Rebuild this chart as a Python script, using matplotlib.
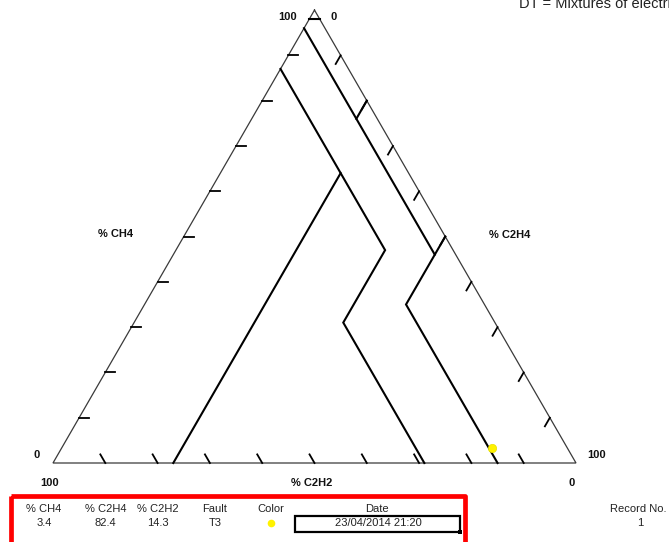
import numpy as np
import matplotlib
matplotlib.use("Agg")
import matplotlib.pyplot as plt
from matplotlib.patches import Rectangle

plt.rcParams['font.family'] = ['Liberation Sans', 'DejaVu Sans']

# ---------------- data ----------------
# ternary points are (CH4, C2H4, C2H2) in %
pd_line = [(98, 2, 0), (98, 0, 2)]
t1_t2_line = [(80, 20, 0), (76, 20, 4)]
c2h2_4_line = [(96, 0, 4), (46, 50, 4)]
t3_line = [(50, 50, 0), (35, 50, 15), (0, 85, 15)]
d1_line = [(87, 0, 13), (64, 23, 13), (0, 23, 77)]
d2_line = [(64, 23, 13), (47, 40, 13), (31, 40, 29), (0, 71, 29)]
zone_lines = [pd_line, t1_t2_line, c2h2_4_line, t3_line, d1_line, d2_line]

tick_values = [10, 20, 30, 40, 50, 60, 70, 80, 90]

sample_ch4 = [3.4]
sample_c2h4 = [82.4]
sample_c2h2 = [14.3]

table_headers = ["% CH4", "% C2H4", "% C2H2", "Fault", "Color", "Date"]
table_values = ["3.4", "82.4", "14.3", "T3", "", "23/04/2014 21:20"]
fault_color = "#FFF200"
record_label = "Record No."
record_value = "1"
legend_text = "DT = Mixtures of electrical and thermal faults"

# ---------------- helpers ----------------
S3 = np.sqrt(3) / 2


def tern(ch4, c2h4, c2h2):
    tot = ch4 + c2h4 + c2h2
    a, b = ch4 / tot * 100, c2h4 / tot * 100
    return b + a / 2, a * S3


W, H = 669, 542
fig = plt.figure(figsize=(W / 100, H / 100), dpi=100)

# main ternary axes: pixel x = 53 + 5.23*X, pixel y = 463 - 5.23*Y
sc = 5.23
ax = fig.add_axes([0, 0, 1, 1])
ax.set_xlim(-53 / sc, (W - 53) / sc)
ax.set_ylim((463 - H) / sc, 463 / sc)
ax.axis('off')

# outline
corners = [(100, 0, 0), (0, 100, 0), (0, 0, 100), (100, 0, 0)]
cx, cy = zip(*[tern(*c) for c in corners])
ax.plot(cx, cy, color='#3a3a3a', lw=0.9, solid_joinstyle='miter')

# ticks
tl = 1.9
for v in tick_values:
    # CH4 ticks on left side (C2H4 = 0), horizontal inward
    p0 = tern(v, 0, 100 - v)
    p1 = tern(v, tl, 100 - v - tl)
    ax.plot([p0[0], p1[0]], [p0[1], p1[1]], color='black', lw=1.3)
    # C2H4 ticks on right side (C2H2 = 0)
    p0 = tern(100 - v, v, 0)
    p1 = tern(100 - v - tl, v, tl)
    ax.plot([p0[0], p1[0]], [p0[1], p1[1]], color='black', lw=1.3)
    # C2H2 ticks on bottom (CH4 = 0)
    p0 = tern(0, 100 - v, v)
    p1 = tern(tl, 100 - v - tl, v)
    ax.plot([p0[0], p1[0]], [p0[1], p1[1]], color='black', lw=1.3)

# zone lines
for line in zone_lines:
    xs, ys = zip(*[tern(*p) for p in line])
    ax.plot(xs, ys, color='black', lw=1.5, solid_joinstyle='miter')

# sample point
for a, b, c in zip(sample_ch4, sample_c2h4, sample_c2h2):
    px, py = tern(a, b, c)
    ax.plot(px, py, 'o', color=fault_color, ms=6, mec='#E8E000', mew=0.5, zorder=5)

# ---------------- overlay in pixel coords ----------------
ov = fig.add_axes([0, 0, 1, 1])
ov.set_xlim(0, W)
ov.set_ylim(H, 0)
ov.axis('off')
ov.patch.set_alpha(0)

bold = dict(fontsize=8, fontweight='bold', color='#111111')
ov.text(288, 17, "100", ha='center', va='center', **bold)
ov.text(334, 17, "0", ha='center', va='center', **bold)
ov.text(37, 455, "0", ha='center', va='center', **bold)
ov.text(50, 483, "100", ha='center', va='center', **bold)
ov.text(597, 455, "100", ha='center', va='center', **bold)
ov.text(572, 483, "0", ha='center', va='center', **bold)
ov.text(116, 234, "% CH4", ha='center', va='center', **bold)
ov.text(510, 235, "% C2H4", ha='center', va='center', **bold)
ov.text(312, 483, "% C2H2", ha='center', va='center', **bold)

ov.text(519, 7.5, legend_text, ha='left', va='baseline', fontsize=10.5, color='#222222')

# table
col_x = [44, 105.5, 158, 215, 270.5, 377]
for x, h, v in zip(col_x, table_headers, table_values):
    ov.text(x, 509, h, ha='center', va='center', fontsize=8, color='#222222')
    if h == "Color":
        ov.plot(x, 523, 'o', color=fault_color, ms=5.5, mec='none')
    else:
        ov.text(x + (1 if h == "Date" else 0), 523, v, ha='center', va='center',
                fontsize=8, color='#222222')

ov.add_patch(Rectangle((295, 516), 165, 16, fill=False, ec='black', lw=1.6))
ov.add_patch(Rectangle((457.5, 529.5), 4.5, 4.5, fc='black', ec='none'))

ov.text(638, 509, record_label, ha='center', va='center', fontsize=8, color='#222222')
ov.text(640, 523, record_value, ha='center', va='center', fontsize=8, color='#222222')

ov.add_patch(Rectangle((10.5, 496), 454.5, 80, fill=False, ec='#FF0000', lw=3.4,
                       joinstyle='round'))

fig.savefig("out.png", dpi=100)
